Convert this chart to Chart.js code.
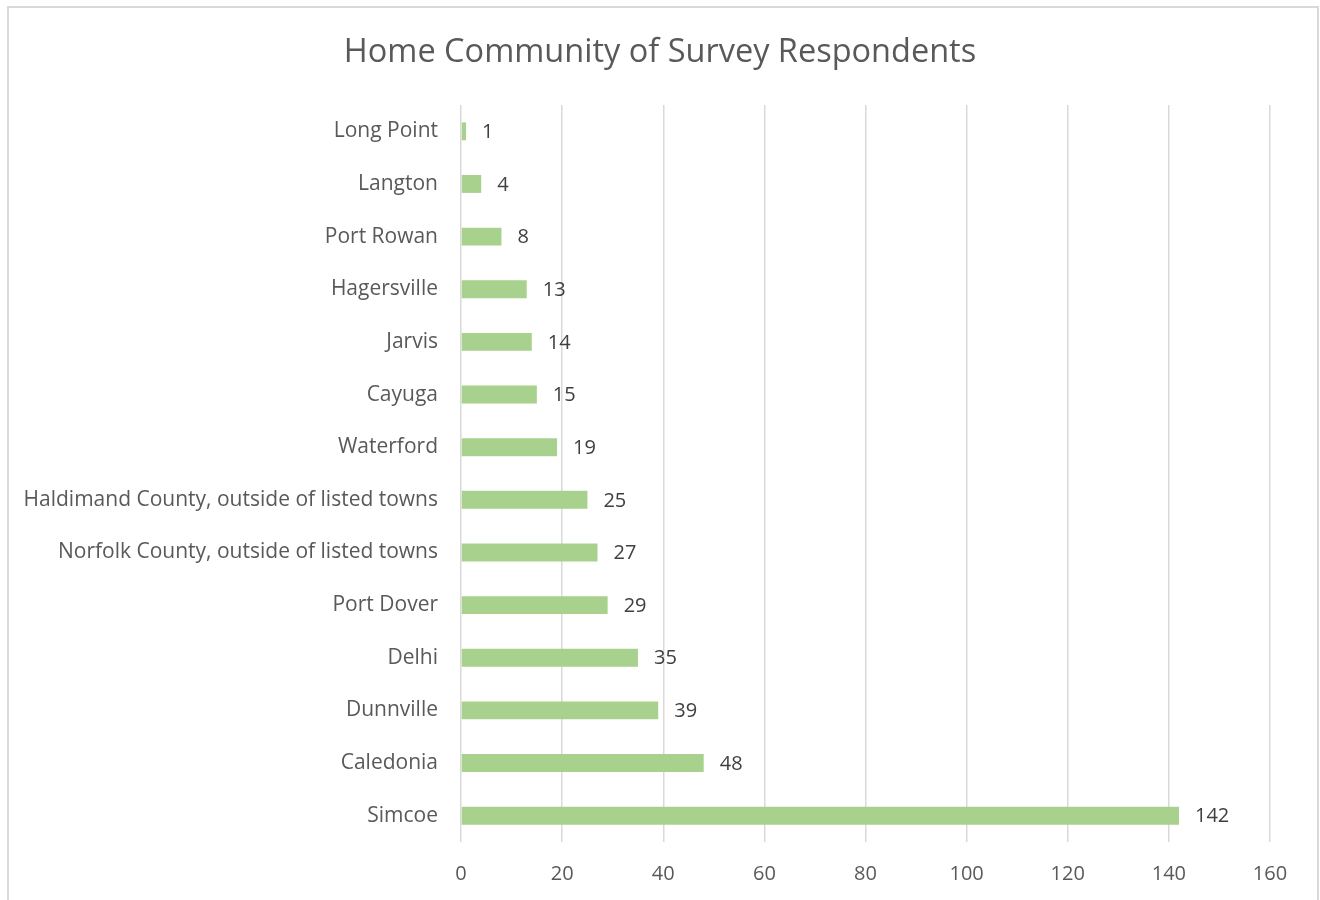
<!DOCTYPE html>
<html>
<head>
<meta charset="utf-8">
<script src="https://cdn.jsdelivr.net/npm/chart.js@4"></script>
<style>
  html, body { margin: 0; padding: 0; background: #fff; }
  #wrap { position: relative; width: 1320px; height: 900px; }
  #frame { position: absolute; left: 7px; top: 6px; width: 1312px; height: 900px;
           border: 2px solid #d9d9d9; box-sizing: border-box; pointer-events: none; }
</style>
</head>
<body>
<div id="wrap">
  <canvas id="chart" width="1320" height="900"></canvas>
  <div id="frame"></div>
</div>
<script>
const CATEGORIES = [
  "Long Point",
  "Langton",
  "Port Rowan",
  "Hagersville",
  "Jarvis",
  "Cayuga",
  "Waterford",
  "Haldimand County, outside of listed towns",
  "Norfolk County, outside of listed towns",
  "Port Dover",
  "Delhi",
  "Dunnville",
  "Caledonia",
  "Simcoe"
];
const RESPONDENTS = [1, 4, 8, 13, 14, 15, 19, 25, 27, 29, 35, 39, 48, 142];
const X_MIN = 0, X_MAX = 160, X_STEP = 20;
const TITLE = 'Home Community of Survey Respondents';

const FONT = "'Open Sans', 'DejaVu Sans', sans-serif";

// value labels to the right of each bar
const barLabels = {
  id: 'barLabels',
  afterDatasetsDraw(chart) {
    const ctx = chart.ctx;
    const meta = chart.getDatasetMeta(0);
    ctx.save();
    ctx.font = '20px ' + FONT;
    ctx.fillStyle = '#404040';
    ctx.textAlign = 'left';
    ctx.textBaseline = 'middle';
    meta.data.forEach((bar, i) => {
      ctx.fillText(String(RESPONDENTS[i]), bar.x + 16, bar.y + 1);
    });
    ctx.restore();
  }
};

// title centred on the whole canvas (built-in one centres inside the padding)
const centredTitle = {
  id: 'centredTitle',
  afterDraw(chart) {
    const ctx = chart.ctx;
    ctx.save();
    ctx.font = '32.5px ' + FONT;
    ctx.fillStyle = '#595959';
    ctx.textAlign = 'center';
    ctx.textBaseline = 'middle';
    ctx.fillText(TITLE, chart.width / 2, 53);
    ctx.restore();
  }
};

new Chart(document.getElementById('chart').getContext('2d'), {
  type: 'bar',
  data: {
    labels: CATEGORIES,
    datasets: [{
      data: RESPONDENTS,
      backgroundColor: '#a9d18e',
      barPercentage: 0.34,
      categoryPercentage: 1
    }]
  },
  options: {
    indexAxis: 'y',
    responsive: false,
    animation: false,
    layout: { padding: { left: 0, right: 50, top: 105, bottom: 0 } },
    plugins: {
      legend: { display: false },
      tooltip: { enabled: false },
      title: { display: false }
    },
    scales: {
      x: {
        min: X_MIN,
        max: X_MAX,
        ticks: {
          stepSize: X_STEP,
          color: '#595959',
          font: { family: FONT, size: 20 },
          padding: 20
        },
        grid: { color: '#d9d9d9', lineWidth: 1.5, drawTicks: false },
        border: { display: false },
        afterFit(scale) { scale.height = 58; }
      },
      y: {
        ticks: {
          color: '#595959',
          font: { family: FONT, size: 21 },
          padding: 23,
          autoSkip: false
        },
        grid: { display: false, drawTicks: false },
        border: { display: false },
        afterFit(scale) { scale.width = 461; }
      }
    }
  },
  plugins: [barLabels, centredTitle]
});
</script>
</body>
</html>
